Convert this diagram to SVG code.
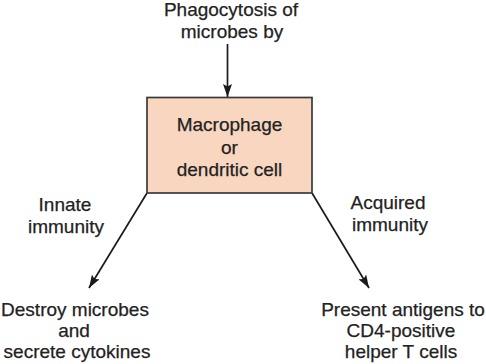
<svg xmlns="http://www.w3.org/2000/svg" width="486" height="364" viewBox="0 0 486 364">
<defs>
<style>
text{font-family:"Liberation Sans",Arial,sans-serif;font-size:19px;fill:#222222;stroke:#222222;stroke-width:0.25;text-anchor:middle}
.box{fill:#f8d6c0;stroke:#3a3a3a;stroke-width:1.7}
.conn{stroke:#1a1a1a;stroke-width:1.7;fill:none}
</style>
<marker id="ah" viewBox="0 0 13 9" refX="13" refY="4.5" markerWidth="13" markerHeight="9" markerUnits="userSpaceOnUse" orient="auto">
<path d="M0,0 L13,4.5 L0,9 L2.5,4.5 z" fill="#1a1a1a"/>
</marker>
</defs>
<rect width="486" height="364" fill="#ffffff"/>
<g id="connectors">
<line class="conn" x1="227.5" y1="44" x2="227.5" y2="97" marker-end="url(#ah)"/>
<line class="conn" x1="147" y1="193" x2="89" y2="288" marker-end="url(#ah)"/>
<line class="conn" x1="312" y1="193" x2="369" y2="288" marker-end="url(#ah)"/>
</g>
<g id="source">
<text x="231" y="15.5">Phagocytosis of</text>
<text x="232" y="37.5">microbes by</text>
</g>
<g id="cell">
<rect class="box" x="147" y="97.5" width="165" height="95.5"/>
<text x="229.5" y="131">Macrophage</text>
<text x="229.5" y="153.5">or</text>
<text x="229.5" y="176">dendritic cell</text>
</g>
<g id="innate-label">
<text x="65" y="211">Innate</text>
<text x="66" y="233">immunity</text>
</g>
<g id="acquired-label">
<text x="388" y="209">Acquired</text>
<text x="390" y="231">immunity</text>
</g>
<g id="innate-outcome">
<text x="75" y="316">Destroy microbes</text>
<text x="74" y="337">and</text>
<text x="77" y="358">secrete cytokines</text>
</g>
<g id="acquired-outcome">
<text x="403" y="316">Present antigens to</text>
<text x="401" y="337">CD4-positive</text>
<text x="401" y="358">helper T cells</text>
</g>
</svg>
